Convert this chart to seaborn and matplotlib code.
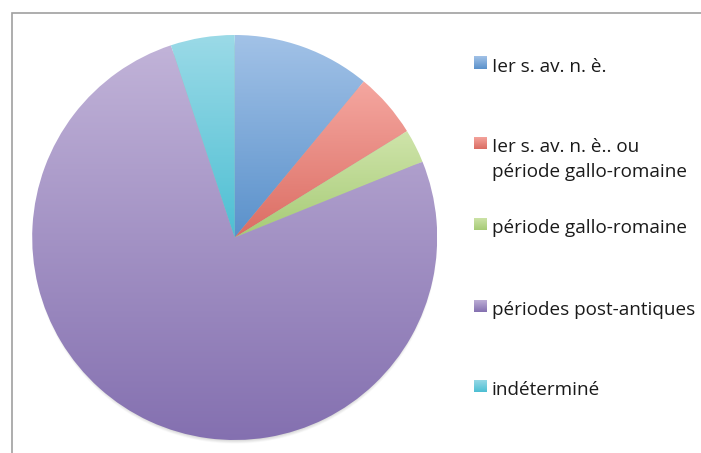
import numpy as np
import matplotlib
matplotlib.use("Agg")
import matplotlib.pyplot as plt
import matplotlib.colors as mcolors
from matplotlib.patches import Rectangle
import seaborn as sns

# Share of each period (percent)
categories = [
    "Ier s. av. n. è.",
    "Ier s. av. n. è.. ou\npériode gallo-romaine",
    "période gallo-romaine",
    "périodes post-antiques",
    "indéterminé",
]
values = [11.0, 5.2, 2.7, 76.0, 5.1]

# light (top) and dark (bottom) shade for each slice's gradient fill
light_colors = ["#a2c2e7", "#f5a7a0", "#cfe4aa", "#c1b3d8", "#9bdae7"]
dark_colors = ["#5a91cb", "#db6d63", "#a6cb76", "#8470b0", "#4dbfd3"]

sns.set_theme(style="white")
plt.rcParams["font.family"] = ["Open Sans", "DejaVu Sans"]

W, H = 701, 453
fig = plt.figure(figsize=(W / 100, H / 100), dpi=100)
fig.patch.set_facecolor("white")

# chart frame (runs off the right and bottom edges)
fig.patches.append(Rectangle((11.5 / W, -0.05), 1.2, 1 - 13 / H + 0.05,
                             transform=fig.transFigure, fill=False,
                             edgecolor="#a0a0a0", linewidth=1.2, zorder=0))

cx, cy, r = 234.7, 237.5, 202.5
span = 1.06
ax = fig.add_axes([(cx - span * r) / W, (H - cy - span * r) / H,
                   2 * span * r / W, 2 * span * r / H])
ax.set_aspect("equal")
ax.axis("off")

# soft drop shadow under the pie, mostly visible along the bottom
n = 500
g = np.linspace(-span, span, n)
X, Y = np.meshgrid(g, g)
d = np.hypot(X, Y + 0.022)
shadow = np.clip((1.0 - d) / 0.035, 0, 1) * 0.30
rgba = np.zeros((n, n, 4))
rgba[..., 3] = shadow
ax.imshow(rgba, extent=[-span, span, -span, span], origin="lower", zorder=0,
          interpolation="bilinear")

wedges, _ = ax.pie(values, startangle=90, counterclock=False, radius=1.0,
                   wedgeprops=dict(linewidth=0, edgecolor="none"))


def gradient_cmap(c_top, c_bot):
    return mcolors.LinearSegmentedColormap.from_list("g", [c_bot, c_top])


for w, ct, cb in zip(wedges, light_colors, dark_colors):
    w.set_facecolor("none")
    verts = w.get_path().vertices
    y0, y1 = verts[:, 1].min(), verts[:, 1].max()
    grad = np.linspace(0, 1, 256).reshape(-1, 1)
    im = ax.imshow(grad, extent=[-1, 1, y0, y1], origin="lower",
                   cmap=gradient_cmap(ct, cb), aspect="auto", zorder=1,
                   interpolation="bilinear")
    im.set_clip_path(w)
ax.set_xlim(-span, span)
ax.set_ylim(-span, span)

# legend: gradient swatch + label for each category
baselines = [71.7, 152.5, 233.3, 315.0, 395.0]
line_step = 24.3
sw_x, sw_size, txt_x = 474.3, 12.4, 491.7
for lab, bl, ct, cb in zip(categories, baselines, light_colors, dark_colors):
    sc = bl - 9.2
    sax = fig.add_axes([sw_x / W, (H - sc - sw_size / 2) / H,
                        sw_size / W, sw_size / H])
    sax.imshow(np.linspace(0, 1, 64).reshape(-1, 1), origin="lower",
               cmap=gradient_cmap(ct, cb), aspect="auto",
               extent=[0, 1, 0, 1])
    sax.axis("off")
    for i, line in enumerate(lab.split("\n")):
        fig.text(txt_x / W, 1 - (bl + i * line_step) / H, line,
                 ha="left", va="baseline", fontsize=13.6, color="#1a1a1a")

fig.savefig("out.png", dpi=100, facecolor="white")
